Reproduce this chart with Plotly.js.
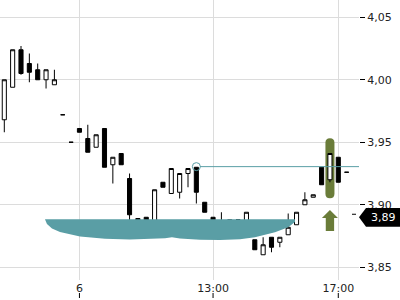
<!DOCTYPE html>
<html><head><meta charset="utf-8">
<script src="https://cdn.plot.ly/plotly-3.0.1.min.js"></script>
<style>html,body{margin:0;padding:0;background:#fff}#chart{width:400px;height:300px}</style>
</head><body><div id="chart"></div>
<script>
// 15-minute bars (index positions on the x axis)
const openP  = [3.968,3.994,4.024,4.013,4.008,4.000,3.996,3.972,3.950,3.961,3.953,3.946,3.961,3.932,3.941,3.921,3.889,3.890,3.884,3.918,3.909,3.910,3.925,3.930,3.902,3.890,3.882,3.880,3.888,3.887,3.872,3.860,3.874,3.870,3.876,3.884,3.900,3.906,3.930,3.920,3.938,3.926];
const highP  = [4.000,4.024,4.027,4.021,4.013,4.008,4.008,3.972,3.950,3.961,3.964,3.956,3.961,3.938,3.941,3.925,3.889,3.890,3.912,3.918,3.929,3.925,3.929,3.930,3.902,3.890,3.894,3.888,3.888,3.894,3.872,3.874,3.874,3.874,3.893,3.894,3.910,3.908,3.930,3.941,3.938,3.926];
const lowP   = [3.958,3.994,4.004,3.998,4.000,3.993,3.996,3.972,3.950,3.958,3.942,3.946,3.930,3.917,3.932,3.882,3.884,3.884,3.884,3.914,3.909,3.905,3.914,3.901,3.894,3.880,3.882,3.878,3.888,3.887,3.864,3.860,3.862,3.866,3.876,3.884,3.900,3.906,3.916,3.918,3.918,3.926];
const closeP = [4.000,4.024,4.005,4.006,4.000,4.008,4.000,3.972,3.950,3.958,3.942,3.956,3.930,3.938,3.932,3.892,3.884,3.884,3.912,3.914,3.929,3.925,3.929,3.910,3.894,3.880,3.886,3.888,3.888,3.894,3.864,3.868,3.866,3.874,3.882,3.894,3.904,3.908,3.916,3.941,3.918,3.926];

const tickVals = [9, 25, 40];
const tickText = ['6', '13:00', '17:00'];

// teal zone outline (bar index, price)
const cloudX = [4.87,5.11,5.71,6.67,9.07,12.06,15.05,18.05,19.25,20.08,21.04,23.44,25.83,28.23,30.02,32.42,34.0,34.81,34.81];
const cloudY = [3.8884,3.8846,3.8810,3.8782,3.8746,3.8729,3.8722,3.8726,3.8732,3.8740,3.8730,3.8721,3.8718,3.8724,3.8740,3.8780,3.8820,3.8862,3.8884];

// markers
const levelIdx = 23, levelPrice = 3.9305;
const signalIdx = 39, signalTop = 3.9532, signalBottom = 3.9052;
const arrowTop = 3.8958, arrowHeadBase = 3.8894, arrowBottom = 3.879;
const lastPrice = 3.89, lastTick = 3.8924;
const lastLabel = '3,89';

const bars = openP.map((_, i) => i);
const xRange = [-0.515, 42.48];
const yRange = [3.8398, 4.0638];

const TEAL = '#5a9ea5', GREEN = '#6a7c39';

const traces = [
  {type:'scatter', mode:'lines', x:cloudX, y:cloudY, fill:'toself', fillcolor:TEAL,
   line:{width:0, color:TEAL}, hoverinfo:'skip', showlegend:false},
  {type:'candlestick', x:bars, open:openP, high:highP, low:lowP, close:closeP,
   increasing:{line:{color:'#000', width:1}, fillcolor:'#fff'},
   decreasing:{line:{color:'#000', width:1}, fillcolor:'#000'},
   whiskerwidth:0, hoverinfo:'skip', showlegend:false}
];

function p(x, y){ return x + ',' + y; }
const hw = 0.54, ry = 0.0036;
const sx = signalIdx;
const pill = 'M' + p(sx-hw, signalBottom+ry) + ' L' + p(sx-hw, signalTop-ry) +
  ' Q' + p(sx-hw, signalTop) + ' ' + p(sx, signalTop) +
  ' Q' + p(sx+hw, signalTop) + ' ' + p(sx+hw, signalTop-ry) +
  ' L' + p(sx+hw, signalBottom+ry) +
  ' Q' + p(sx+hw, signalBottom) + ' ' + p(sx, signalBottom) +
  ' Q' + p(sx-hw, signalBottom) + ' ' + p(sx-hw, signalBottom+ry) + ' Z';
const ah = 0.96, as = 0.5;
const arrow = 'M' + p(sx, arrowTop) + ' L' + p(sx+ah, arrowHeadBase) + ' L' + p(sx+as, arrowHeadBase) +
  ' L' + p(sx+as, arrowBottom) + ' L' + p(sx-as, arrowBottom) + ' L' + p(sx-as, arrowHeadBase) +
  ' L' + p(sx-ah, arrowHeadBase) + ' Z';

const plotW = 359;
const bx0 = 1, bx1 = 1 + 7/plotW, bx2 = 1 + 45/plotW, bh = 0.0075;
const labelBox = 'M' + p(bx0, lastPrice) + ' L' + p(bx1, lastPrice+bh) + ' L' + p(bx2, lastPrice+bh) +
  ' L' + p(bx2, lastPrice-bh) + ' L' + p(bx1, lastPrice-bh) + ' Z';

const shapes = [
  {type:'path', path:pill, xref:'x', yref:'y', fillcolor:GREEN, line:{width:0}, layer:'between'},
  {type:'path', path:arrow, xref:'x', yref:'y', fillcolor:GREEN, line:{width:0}},
  {type:'line', xref:'x', yref:'y', x0:levelIdx+0.45, x1:xRange[1], y0:levelPrice, y1:levelPrice,
   line:{color:TEAL, width:1}},
  {type:'circle', xref:'x', yref:'y', xsizemode:'pixel', ysizemode:'pixel',
   xanchor:levelIdx, yanchor:levelPrice, x0:-4, x1:4, y0:-4, y1:4,
   line:{color:TEAL, width:1}, fillcolor:'rgba(0,0,0,0)'},
  {type:'path', path:labelBox, xref:'paper', yref:'y', fillcolor:'#000', line:{width:0}},
  {type:'line', xref:'paper', yref:'y', x0:352/plotW, x1:356/plotW, y0:lastTick, y1:lastTick,
   line:{color:'#000', width:1}}
].concat(tickVals.map(v => ({type:'line', xref:'x', yref:'paper', x0:v, x1:v,
   y0:-13/280, y1:-18/280, line:{color:'#000', width:1}})));

const layout = {
  width:400, height:300,
  margin:{l:0, r:41, t:0, b:20},
  paper_bgcolor:'#fff', plot_bgcolor:'#fff',
  separators:',.',
  showlegend:false,
  font:{family:'DejaVu Sans', size:11, color:'#222'},
  xaxis:{range:xRange, tickvals:tickVals, ticktext:tickText, showgrid:true, gridcolor:'#dcdcdc',
    gridwidth:1, zeroline:false, showline:false, ticks:'', rangeslider:{visible:false},
    fixedrange:true, tickfont:{size:11}},
  yaxis:{range:yRange, side:'right', dtick:0.05, tick0:3.85, tickformat:'.2f', showgrid:true,
    gridcolor:'#dcdcdc', gridwidth:1, zeroline:false, showline:false, ticks:'outside',
    ticklen:5, tickcolor:'#000', tickwidth:1, fixedrange:true, tickfont:{size:11}},
  shapes:shapes,
  annotations:[{xref:'paper', yref:'y', x:1 + 24/plotW, y:lastPrice, xanchor:'center', yanchor:'middle',
    text:lastLabel, showarrow:false, font:{family:'DejaVu Sans', size:11, color:'#fff'}}]
};

Plotly.newPlot('chart', traces, layout, {displayModeBar:false, staticPlot:true});
</script></body></html>
